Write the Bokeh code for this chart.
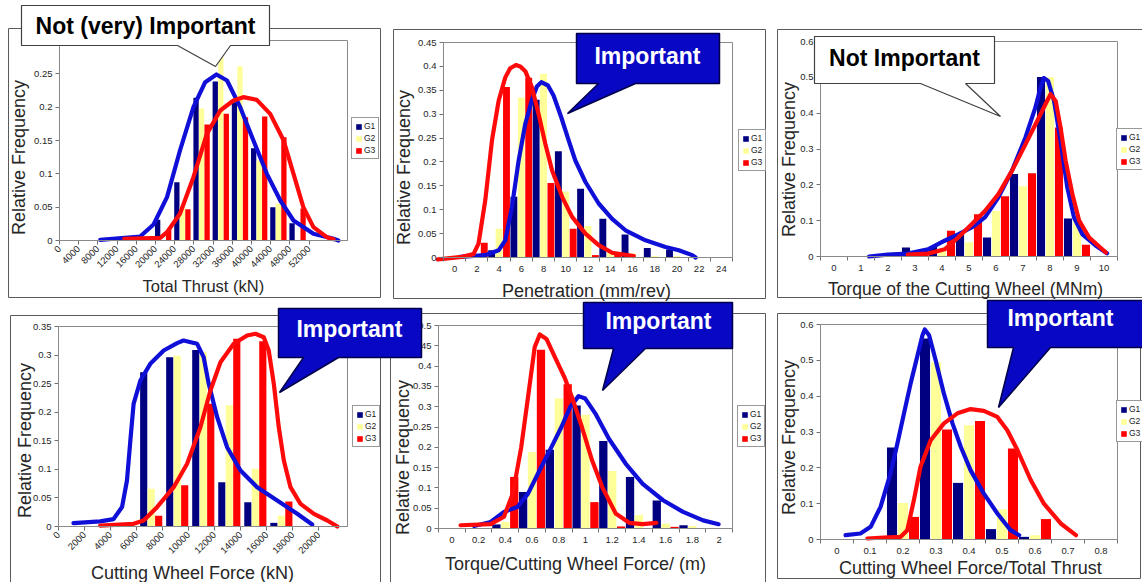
import math
from bokeh.plotting import figure
from bokeh.models import (Range1d, FixedTicker, PrintfTickFormatter, Legend,
                          LegendItem, PolyAnnotation, Label, LinearAxis)
from bokeh.embed import file_html
from bokeh.resources import INLINE

FONT = "Liberation Sans"
BAR_COLORS = ["#000080", "#ffff99", "#ff0000"]
CURVE_BLUE = "#0f0fd8"
CURVE_RED = "#ff0a0a"
CALL_BLUE = "#0808c4"
GROUPS = ["G1", "G2", "G3"]

# ---------------- data ----------------
# Panel 1: Total Thrust (kN)
thrust_bins = [20000, 24000, 28000, 32000, 36000, 40000, 44000, 48000]
thrust_g1 = [0.031, 0.0875, 0.214, 0.2385, 0.2075, 0.1385, 0.050, 0.026]
thrust_g2 = [0.0, 0.052, 0.198, 0.277, 0.2615, 0.12, 0.055, 0.0]
thrust_g3 = [0.016, 0.047, 0.174, 0.19, 0.185, 0.186, 0.155, 0.048]
thrust_blue_x = [8500, 16800, 19600, 22400, 25100, 27900, 30350, 32700, 34900, 37650, 40400, 43200, 46000, 48750, 52900, 57100, 58100]
thrust_blue_y = [0.001, 0.006, 0.024, 0.065, 0.135, 0.2, 0.2375, 0.249, 0.24, 0.2, 0.15, 0.1, 0.06, 0.03, 0.01, 0.0025, 0.0]
thrust_red_x = [13500, 21000, 22400, 25100, 27900, 30700, 33500, 36250, 38300, 41100, 43900, 46700, 48750, 50800, 52900, 55700, 57100]
thrust_red_y = [0.0025, 0.004, 0.0125, 0.04, 0.095, 0.16, 0.195, 0.21, 0.215, 0.211, 0.19, 0.15, 0.1, 0.05, 0.02, 0.005, 0.002]
thrust_xticks = [0, 4000, 8000, 12000, 16000, 20000, 24000, 28000, 32000, 36000, 40000, 44000, 48000, 52000]
thrust_yticks = [0, 0.05, 0.1, 0.15, 0.2, 0.25, 0.3]

# Panel 2: Penetration (mm/rev)
pen_cats = [2, 4, 6, 8, 10, 12, 14, 16, 18, 20]
pen_g1 = [0.0, 0.015, 0.127, 0.33, 0.2225, 0.144, 0.081, 0.048, 0.02, 0.017]
pen_g2 = [0.0, 0.06, 0.335, 0.384, 0.138, 0.066, 0.01, 0.008, 0.003, 0.003]
pen_g3 = [0.031, 0.357, 0.376, 0.156, 0.06, 0.005, 0.008, 0.0, 0.0, 0.0]
pen_red_x = [-1.5, 0.66, 1.70, 2.15, 2.76, 3.36, 3.96, 4.56, 5.0, 5.52, 5.9, 6.36, 6.96, 7.56, 8.16, 8.77, 9.67, 10.57, 11.77, 12.96, 14.17, 16.12]
pen_red_y = [-0.004, 0.0014, 0.007, 0.029, 0.12, 0.245, 0.328, 0.377, 0.396, 0.403, 0.4, 0.39, 0.356, 0.3, 0.238, 0.182, 0.127, 0.085, 0.05, 0.026, 0.01, 0.003]
pen_blue_x = [0.50, 2.76, 3.96, 4.56, 5.16, 5.76, 6.36, 6.96, 7.4, 7.8, 8.4, 8.9, 9.6, 10.26, 10.86, 11.77, 12.96, 14.17, 15.37, 17.17, 18.97, 20.17, 21.38, 21.68]
pen_blue_y = [0.0014, 0.005, 0.015, 0.036, 0.106, 0.203, 0.28, 0.33, 0.358, 0.367, 0.36, 0.339, 0.293, 0.245, 0.203, 0.158, 0.113, 0.081, 0.057, 0.036, 0.022, 0.015, 0.005, 0.0]
pen_xticks = [0, 2, 4, 6, 8, 10, 12, 14, 16, 18, 20, 22, 24]
pen_xminor = [-1, 1, 3, 5, 7, 9, 11, 13, 15, 17, 19, 21, 23, 25]
pen_yticks = [0, 0.05, 0.1, 0.15, 0.2, 0.25, 0.3, 0.35, 0.4, 0.45]

# Panel 3: Torque of the Cutting Wheel (MNm)
torque_cats = [3, 4, 5, 6, 7, 8, 9]
torque_g1 = [0.025, 0.027, 0.06, 0.053, 0.23, 0.501, 0.106]
torque_g2 = [0.0, 0.015, 0.04, 0.127, 0.196, 0.5, 0.109]
torque_g3 = [0.02, 0.072, 0.118, 0.168, 0.232, 0.36, 0.033]
torque_blue_x = [1.30, 1.99, 2.73, 3.48, 4.10, 4.60, 5.10, 5.59, 6.09, 6.59, 7.09, 7.46, 7.65, 7.77, 7.93, 8.15, 8.39, 8.64, 8.89, 9.20, 9.70, 10.11]
torque_blue_y = [0.0, 0.005, 0.008, 0.02, 0.044, 0.062, 0.081, 0.109, 0.165, 0.239, 0.332, 0.416, 0.472, 0.498, 0.49, 0.434, 0.323, 0.193, 0.109, 0.062, 0.03, 0.009]
torque_red_x = [2.73, 3.48, 4.10, 4.60, 5.10, 5.59, 6.09, 6.59, 7.09, 7.59, 7.83, 8.02, 8.21, 8.39, 8.58, 8.83, 9.08, 9.45, 10.07]
torque_red_y = [0.005, 0.008, 0.02, 0.053, 0.09, 0.127, 0.174, 0.239, 0.313, 0.388, 0.425, 0.453, 0.434, 0.36, 0.267, 0.174, 0.1, 0.053, 0.011]
torque_xticks = [0, 1, 2, 3, 4, 5, 6, 7, 8, 9, 10]
torque_xminor = [-0.5, 0.5, 1.5, 2.5, 3.5, 4.5, 5.5, 6.5, 7.5, 8.5, 9.5, 10.5]
torque_yticks = [0, 0.1, 0.2, 0.3, 0.4, 0.5, 0.6]

# Panel 4: Cutting Wheel Force (kN)
force_bins = [6000, 8000, 10000, 12000, 14000, 16000]
force_g1 = [0.27, 0.296, 0.309, 0.0776, 0.0426, 0.0064]
force_g2 = [0.066, 0.299, 0.305, 0.212, 0.101, 0.019]
force_g3 = [0.019, 0.072, 0.2147, 0.3285, 0.324, 0.0437]
force_blue_x = [1150, 3200, 4230, 4880, 5260, 5520, 5770, 6290, 7050, 8080, 9110, 9600, 10650, 11150, 11540, 12190, 12950, 13980, 15260, 16800, 18340, 19490]
force_blue_y = [0.006, 0.009, 0.013, 0.034, 0.0805, 0.1505, 0.2147, 0.2555, 0.2847, 0.308, 0.3208, 0.3255, 0.3197, 0.2963, 0.2497, 0.1913, 0.1388, 0.098, 0.0688, 0.0455, 0.0222, 0.0035]
force_red_x = [3200, 5770, 6540, 7570, 8850, 9880, 10900, 11670, 12440, 13460, 14490, 15130, 15770, 16150, 16540, 16920, 17310, 17820, 18590, 19620, 20650, 21420]
force_red_y = [0.0017, 0.0047, 0.0105, 0.0338, 0.0688, 0.1097, 0.1738, 0.238, 0.2875, 0.3197, 0.3343, 0.3372, 0.3313, 0.308, 0.2497, 0.1738, 0.1155, 0.0688, 0.0397, 0.0222, 0.0105, 0.0]
force_xticks = [0, 2000, 4000, 6000, 8000, 10000, 12000, 14000, 16000, 18000, 20000]
force_yticks = [0, 0.05, 0.1, 0.15, 0.2, 0.25, 0.3, 0.35]

# Panel 5: Torque/Cutting Wheel Force/ (m)
ratio_cats = [0.4, 0.6, 0.8, 1.0, 1.2, 1.4, 1.6, 1.8]
ratio_g1 = [0.01, 0.09, 0.194, 0.303, 0.2155, 0.127, 0.069, 0.008]
ratio_g2 = [0.016, 0.188, 0.32, 0.28, 0.1417, 0.033, 0.012, 0.006]
ratio_g3 = [0.127, 0.44, 0.355, 0.065, 0.005, 0.0, 0.004, 0.0]
ratio_red_x = [0.065, 0.29, 0.39, 0.456, 0.519, 0.57, 0.62, 0.658, 0.708, 0.771, 0.847, 0.898, 0.973, 1.049, 1.125, 1.226, 1.327, 1.428, 1.53]
ratio_red_y = [0.008, 0.0106, 0.029, 0.086, 0.2, 0.324, 0.447, 0.478, 0.467, 0.422, 0.369, 0.324, 0.25, 0.168, 0.102, 0.037, 0.014, 0.0106, 0.014]
ratio_blue_x = [0.167, 0.29, 0.39, 0.49, 0.57, 0.67, 0.746, 0.82, 0.885, 0.948, 0.998, 1.074, 1.175, 1.30, 1.428, 1.58, 1.73, 1.88, 1.996]
ratio_blue_y = [0.006, 0.016, 0.041, 0.053, 0.086, 0.152, 0.201, 0.25, 0.299, 0.326, 0.32, 0.283, 0.221, 0.16, 0.11, 0.0696, 0.041, 0.02, 0.0106]
ratio_xticks = [0, 0.2, 0.4, 0.6, 0.8, 1.0, 1.2, 1.4, 1.6, 1.8, 2.0]
ratio_xminor = [-0.1, 0.1, 0.3, 0.5, 0.7, 0.9, 1.1, 1.3, 1.5, 1.7, 1.9, 2.1]
ratio_yticks = [0, 0.05, 0.1, 0.15, 0.2, 0.25, 0.3, 0.35, 0.4, 0.45, 0.5]

# Panel 6: Cutting Wheel Force/Total Thrust
cwt_cats = [0.2, 0.3, 0.4, 0.5, 0.6]
cwt_g1 = [0.257, 0.561, 0.158, 0.029, 0.0074]
cwt_g2 = [0.102, 0.495, 0.319, 0.084, 0.012]
cwt_g3 = [0.063, 0.307, 0.331, 0.254, 0.057]
cwt_blue_x = [0.026, 0.071, 0.102, 0.132, 0.162, 0.183, 0.203, 0.223, 0.243, 0.259, 0.266, 0.279, 0.299, 0.324, 0.350, 0.375, 0.405, 0.445, 0.486, 0.526, 0.552]
cwt_blue_y = [0.012, 0.0167, 0.0353, 0.0912, 0.184, 0.268, 0.352, 0.435, 0.51, 0.57, 0.586, 0.57, 0.5, 0.407, 0.324, 0.259, 0.193, 0.128, 0.0726, 0.026, 0.012]
cwt_red_x = [0.092, 0.142, 0.193, 0.213, 0.233, 0.253, 0.284, 0.324, 0.365, 0.405, 0.445, 0.486, 0.516, 0.547, 0.587, 0.627, 0.678, 0.724]
cwt_red_y = [0.0028, 0.0056, 0.0074, 0.026, 0.11, 0.203, 0.277, 0.324, 0.352, 0.364, 0.359, 0.342, 0.305, 0.249, 0.166, 0.1, 0.0447, 0.012]
cwt_xticks = [0, 0.1, 0.2, 0.3, 0.4, 0.5, 0.6, 0.7, 0.8]
cwt_xminor = [-0.05, 0.05, 0.15, 0.25, 0.35, 0.45, 0.55, 0.65, 0.75, 0.85]
cwt_yticks = [0, 0.1, 0.2, 0.3, 0.4, 0.5, 0.6]

# ---------------- page figure ----------------
W, H = 1142, 582
# default ranges = page pixels (y downwards) for decorations; every panel gets its own data ranges
p = figure(width=W, height=H, x_range=Range1d(0, W), y_range=Range1d(H, 0),
           x_axis_type=None, y_axis_type=None,
           output_backend="svg", toolbar_location=None,
           min_border_left=0, min_border_right=0, min_border_top=0, min_border_bottom=0,
           background_fill_color="white", border_fill_color="white", outline_line_color=None)
p.xgrid.visible = False
p.ygrid.visible = False

extra_x, extra_y = {}, {}


def style_axis(ax, ticks, minor, fmt):
    ax.ticker = FixedTicker(ticks=ticks, minor_ticks=minor)
    ax.formatter = PrintfTickFormatter(format=fmt)
    ax.axis_line_color = "#707070"
    ax.major_label_text_font = FONT
    ax.major_label_text_font_size = "9.5px"
    ax.major_label_text_color = "#262626"
    ax.major_tick_in = 0
    ax.major_tick_out = 4
    ax.major_tick_line_color = "#707070"
    ax.minor_tick_line_color = None
    ax.major_label_standoff = 3


def panel(name, frame, xr, yr, xticks, xminor, xfmt, rotate, yticks):
    fl, ft, fr, fb = frame
    kx = (xr[1] - xr[0]) / (fr - fl)
    ky = (yr[1] - yr[0]) / (fb - ft)
    xn, yn = name + "_x", name + "_y"
    extra_x[xn] = Range1d(xr[0] - fl * kx, xr[1] + (W - fr) * kx)
    extra_y[yn] = Range1d(yr[0] - (H - fb) * ky, yr[1] + ft * ky)
    # plot-area border
    p.add_layout(PolyAnnotation(xs=[fl, fr, fr, fl], ys=[fb, fb, ft, ft], fill_alpha=0,
                                line_color="#8a8a8a", line_alpha=1.0, line_width=1))
    xa = LinearAxis(x_range_name=xn, y_range_name=yn, fixed_location=yr[0], bounds=xr)
    style_axis(xa, xticks, xminor, xfmt)
    if rotate:
        xa.major_label_orientation = math.pi / 4
    else:
        xa.major_tick_line_color = None
        xa.minor_tick_line_color = "#707070"
        xa.minor_tick_in = 0
        xa.minor_tick_out = 4
        xa.major_label_standoff = 4
    ya = LinearAxis(x_range_name=xn, y_range_name=yn, fixed_location=xr[0], bounds=yr)
    style_axis(ya, yticks, [], "%g")
    p.add_layout(xa, "below")
    p.add_layout(ya, "left")
    return xn, yn


def add_bars(rn, centers, series, step, width):
    xn, yn = rn
    rs = []
    for k, (vals, col) in enumerate(zip(series, BAR_COLORS)):
        xs = [c + (k - 1) * step for c in centers]
        rs.append(p.vbar(x=xs, top=vals, bottom=0, width=width, fill_color=col,
                         line_color=None, x_range_name=xn, y_range_name=yn))
    return rs


def add_curves(rn, bx, by, rx, ry):
    xn, yn = rn
    for xs, ys, c in [(bx, by, CURVE_BLUE), (rx, ry, CURVE_RED)]:
        p.line(xs, ys, line_width=4.2, line_color=c, line_join="round", line_cap="round",
               x_range_name=xn, y_range_name=yn)


def add_legend(rs, left, bottom):
    leg = Legend(items=[LegendItem(label=g, renderers=[r]) for g, r in zip(GROUPS, rs)],
                 location=(left, H - bottom), orientation="vertical",
                 label_text_font=FONT, label_text_font_size="8.5px",
                 label_text_color="#222222",
                 glyph_width=7, glyph_height=7, label_height=9, label_width=9,
                 spacing=2, padding=3, margin=0, label_standoff=2,
                 border_line_color="#333333", border_line_width=1,
                 background_fill_color="white", background_fill_alpha=1.0)
    p.add_layout(leg)


def add_box(box, color="#5a5a5a", width=1):
    l, t, r, b = box
    p.add_layout(PolyAnnotation(xs=[l, r, r, l], ys=[t, t, b, b], fill_alpha=0,
                                line_color=color, line_alpha=1.0, line_width=width))


def add_titles(xlabel, xpos, xsize, ylabel, ypos):
    p.add_layout(Label(x=xpos[0], y=xpos[1], text=xlabel, text_font=FONT, text_font_size=xsize,
                       text_color="#262626", text_align="center", text_baseline="middle"))
    p.add_layout(Label(x=ypos[0], y=ypos[1], text=ylabel, text_font=FONT, text_font_size="18px",
                       text_color="#262626", text_align="center", text_baseline="middle",
                       angle=math.pi / 2))


def callout(box, base, tip, text, tpos, blue):
    l, t, r, b = box
    pts = [(l, t), (r, t), (r, b), (base[1], b), tip, (base[0], b), (l, b)]
    if blue:
        fill, line, lw, tcol = CALL_BLUE, "#00004a", 1.5, "white"
    else:
        fill, line, lw, tcol = "white", "#404040", 1.2, "black"
    p.add_layout(PolyAnnotation(xs=[q[0] for q in pts], ys=[q[1] for q in pts],
                                fill_color=fill, fill_alpha=1.0, line_color=line,
                                line_alpha=1.0, line_width=lw))
    p.add_layout(Label(x=tpos[0], y=tpos[1], text=text, text_font=FONT, text_font_style="bold",
                       text_font_size="23px", text_color=tcol,
                       text_align="center", text_baseline="middle"))


# ---------------- panel 1 ----------------
rn = panel("p1", (59, 40, 347, 240), (0, 60000), (0, 0.3), thrust_xticks, [], "%d", True, thrust_yticks)
r1 = add_bars(rn, [b + 1600 for b in thrust_bins], [thrust_g1, thrust_g2, thrust_g3], 1150, 1100)
add_curves(rn, thrust_blue_x, thrust_blue_y, thrust_red_x, thrust_red_y)

# ---------------- panel 2 ----------------
rn = panel("p2", (443, 42, 732, 257), (-1, 25), (0, 0.45), pen_xticks, pen_xminor, "%d", False, pen_yticks)
r2 = add_bars(rn, pen_cats, [pen_g1, pen_g2, pen_g3], 0.667, 0.62)
add_curves(rn, pen_blue_x, pen_blue_y, pen_red_x, pen_red_y)

# ---------------- panel 3 ----------------
rn = panel("p3", (820, 41, 1117, 256), (-0.5, 10.5), (0, 0.6), torque_xticks, torque_xminor, "%d", False, torque_yticks)
r3 = add_bars(rn, torque_cats, [torque_g1, torque_g2, torque_g3], 0.333, 0.3)
add_curves(rn, torque_blue_x, torque_blue_y, torque_red_x, torque_red_y)

# ---------------- panel 4 ----------------
rn = panel("p4", (58, 326, 347, 526), (0, 22200), (0, 0.35), force_xticks, [], "%d", True, force_yticks)
r4 = add_bars(rn, [b + 1120 for b in force_bins], [force_g1, force_g2, force_g3], 575, 550)
add_curves(rn, force_blue_x, force_blue_y, force_red_x, force_red_y)

# ---------------- panel 5 ----------------
rn = panel("p5", (438, 325, 732, 528), (-0.1, 2.1), (0, 0.5), ratio_xticks, ratio_xminor, "%g", False, ratio_yticks)
r5 = add_bars(rn, ratio_cats, [ratio_g1, ratio_g2, ratio_g3], 0.0667, 0.062)
add_curves(rn, ratio_blue_x, ratio_blue_y, ratio_red_x, ratio_red_y)

# ---------------- panel 6 ----------------
rn = panel("p6", (820, 324, 1117, 539), (-0.05, 0.85), (0, 0.6), cwt_xticks, cwt_xminor, "%g", False, cwt_yticks)
r6 = add_bars(rn, cwt_cats, [cwt_g1, cwt_g2, cwt_g3], 0.0333, 0.0305)
add_curves(rn, cwt_blue_x, cwt_blue_y, cwt_red_x, cwt_red_y)

p.extra_x_ranges = extra_x
p.extra_y_ranges = extra_y

# ---------------- decorations (page pixels) ----------------
for box in [(8, 28, 380, 297), (393, 29, 765, 298), (777, 29, 1170, 297),
            (10, 315, 380, 600), (390, 313, 765, 600), (777, 313, 1140, 578)]:
    add_box(box)

add_legend(r1, 351, 159)
add_legend(r2, 738, 171)
add_legend(r3, 1116, 170)
add_legend(r4, 352, 447)
add_legend(r5, 737, 447)
add_legend(r6, 1116, 442)

add_titles("Total Thrust (kN)", (203, 285), "16.5px", "Relative Frequency", (18, 157))
add_titles("Penetration (mm/rev)", (586, 290), "18px", "Relative Frequency", (403, 167))
add_titles("Torque of the Cutting Wheel (MNm)", (965, 288), "17.5px", "Relative Frequency", (788, 159))
add_titles("Cutting Wheel Force (kN)", (192, 572), "18px", "Relative Frequency", (24, 440))
add_titles("Torque/Cutting Wheel Force/ (m)", (575, 563), "18px", "Relative Frequency", (402, 457))
add_titles("Cutting Wheel Force/Total Thrust", (970, 567), "18px", "Relative Frequency", (788, 437))

callout((21, 5, 269, 45), (177, 230), (215, 66), "Not (very) Important", (145, 25), False)
callout((576, 33, 719, 83), (598, 635), (567, 113), "Important", (647, 55), True)
callout((814, 36, 994, 83), (920, 965), (1000, 116), "Not Important", (904, 57), False)
callout((278, 308, 421, 357), (303, 338), (279, 392), "Important", (349, 328), True)
callout((583, 302, 732, 348), (613, 645), (602, 390), "Important", (658, 320), True)
callout((987, 300, 1160, 347), (1013, 1050), (998, 407), "Important", (1060, 317), True)

open("out.html", "w").write(file_html(p, INLINE, title="Relative frequency histograms"))
